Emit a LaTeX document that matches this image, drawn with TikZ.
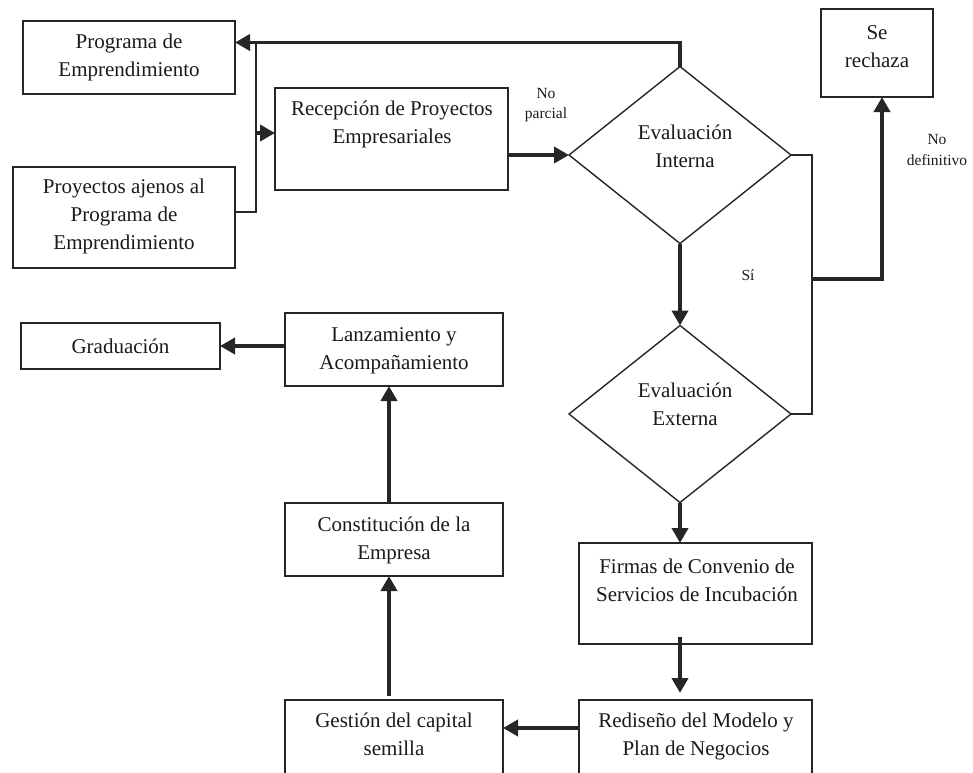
\documentclass[tikz,border=0pt]{standalone}
\usepackage{fontspec}
\setmainfont{Liberation Serif}
\usetikzlibrary{arrows.meta,shapes.geometric,calc}
\definecolor{linec}{HTML}{262626}
\definecolor{textc}{HTML}{1A1A1A}
\tikzset{
 box/.style={draw=linec, line width=1.5pt, inner sep=0pt, outer sep=0pt, anchor=north west},
 dia/.style={diamond, draw=linec, line width=1.4pt, inner sep=0pt, outer sep=0pt, minimum width=222pt, minimum height=177pt},
 txt/.style={align=center, font=\fontsize{21}{28}\selectfont, inner sep=0pt, text=textc},
 lbl/.style={align=center, font=\fontsize{15.5}{20.5}\selectfont, inner sep=0pt, text=textc},
 arr/.style={draw=linec, line width=3.8pt, -{Triangle[length=15pt,width=16pt]}},
 thinln/.style={draw=linec, line width=1.7pt},
}
\begin{document}
\begin{tikzpicture}[x=1pt,y=-1pt]
\useasboundingbox (0,0) rectangle (973,772);
\clip (0,0) rectangle (973,772);
% boxes
\node[box, minimum width=212pt, minimum height=73pt] (pe) at (23,21) {};
\node[box, minimum width=222pt, minimum height=101pt] (pa) at (13,167) {};
\node[box, minimum width=233pt, minimum height=102pt] (rec) at (275,88) {};
\node[box, minimum width=112pt, minimum height=88pt] (sr) at (821,9) {};
\node[dia] (ei) at (680,155) {};
\node[dia] (ee) at (680,414) {};
\node[box, minimum width=233pt, minimum height=101pt] (fi) at (579,543) {};
\node[box, minimum width=233pt, minimum height=100pt] (re) at (579,700) {};
\node[box, minimum width=218pt, minimum height=100pt] (gs) at (285,700) {};
\node[box, minimum width=218pt, minimum height=73pt] (co) at (285,503) {};
\node[box, minimum width=218pt, minimum height=73pt] (la) at (285,313) {};
\node[box, minimum width=199pt, minimum height=46pt] (gr) at (21,323) {};
% texts
\node[txt] (tpe) at (129,57.5) {Programa de\\Emprendimiento};
\node[txt] (tpa) at (124,216) {Proyectos ajenos al\\Programa de\\Emprendimiento};
\node[txt] (trec) at (392,124) {Recepción de Proyectos\\Empresariales};
\node[txt] (tsr) at (877,47) {Se\\rechaza};
\node[txt] (tei) at (685,146) {Evaluación\\Interna};
\node[txt] (tee) at (685,404) {Evaluación\\Externa};
\node[txt] (tfi) at (697,580) {Firmas de Convenio de\\Servicios de Incubación};
\node[txt] (tre) at (696,736.5) {Rediseño del Modelo y\\Plan de Negocios};
\node[txt] (tgs) at (394,734.5) {Gestión del capital\\semilla};
\node[txt] (tco) at (394,540) {Constitución de la\\Empresa};
\node[txt] (tla) at (394,350.5) {Lanzamiento y\\Acompañamiento};
\node[txt] (tgr) at (120.5,346) {Graduación};
% labels
\node[lbl] (lnp) at (546,105) {No\\parcial};
\node[lbl] (lnd) at (937,150) {No\\definitivo};
\node[lbl] (lsi) at (748,275) {Sí};
% connectors
\draw[arr] (ei.north) -- ++(0,-24) coordinate (tl) -- (tl -| pe.east);
\draw[thinln] ([yshift=5.5pt]pa.east) -- ++(21,0) coordinate (j1) -- (j1 |- tl);
\coordinate (recin) at ([yshift=6pt]rec.west);
\draw[arr] (j1 |- recin) -- (recin);
\draw[arr] (rec.east |- ei.west) -- (ei.west);
\draw[thinln] (ei.east) -- ++(21,0) coordinate (r1) -- (r1 |- ee.east) -- (ee.east);
\draw[arr] ([yshift=-124pt]r1) -| ([xshift=5pt]sr.south);
\draw[arr] (ei.south) -- (ee.north);
\draw[arr] (ee.south) -- (ee.south |- fi.north);
\draw[arr] ([yshift=7pt]fi.south -| ee.south) -- ([yshift=7pt]re.north -| ee.south);
\draw[arr] ([yshift=-28pt]re.north west) -- ([yshift=-28pt]gs.north east);
\draw[arr] ([xshift=-5pt,yshift=4pt]gs.north) -- ([xshift=-5pt]co.south);
\draw[arr] ([xshift=-5pt]co.north) -- ([xshift=-5pt]la.south);
\draw[arr] (la.west |- gr.east) -- (gr.east);
\end{tikzpicture}
\end{document}
